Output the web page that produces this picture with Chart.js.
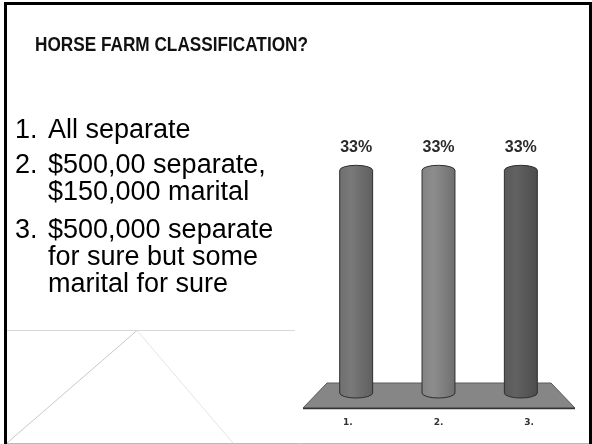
<!DOCTYPE html>
<html>
<head>
<meta charset="utf-8">
<script src="https://cdn.jsdelivr.net/npm/chart.js@4"></script>
<style>
  html, body { margin: 0; padding: 0; background: #fff; }
  #slide { position: relative; width: 592px; height: 444px; overflow: hidden; }
  #chart { position: absolute; left: 0; top: 0; }
  .title { position: absolute; left: 35px; top: 34px; font: bold 20px/20px "Liberation Sans", Arial, sans-serif; color: #111; white-space: nowrap; transform: scaleX(0.86); transform-origin: 0 0; }
  .item { position: absolute; font: 27px/27px "Liberation Sans", Arial, sans-serif; color: #000; white-space: nowrap; }
  .item .n { position: absolute; left: 0; }
  .item .t { position: absolute; left: 33px; }
  .frame { position: absolute; pointer-events: none; }
</style>
</head>
<body>
<div id="slide">
  <canvas id="chart" width="592" height="444"></canvas>
  <div class="frame" style="left:4px;top:2px;width:3px;height:442px;background:#000"></div>
  <div class="frame" style="left:4px;top:2px;width:588px;height:3px;background:#000"></div>
  <div class="frame" style="left:589px;top:2px;width:3px;height:442px;background:#000"></div>
  <div class="title">HORSE FARM CLASSIFICATION?</div>
  <div class="item" style="left:15px;top:116px"><span class="n">1.</span><span class="t">All separate</span></div>
  <div class="item" style="left:15px;top:151px"><span class="n">2.</span><span class="t">$500,00 separate,<br>$150,000 marital</span></div>
  <div class="item" style="left:15px;top:216px"><span class="n">3.</span><span class="t">$500,000 separate<br>for sure but some<br>marital for sure</span></div>
</div>
<script>
// ---- data ----
const categories = ["1.", "2.", "3."];
const responses = [33, 33, 33];            // percent of votes
const valueLabels = ["33%", "33%", "33%"];
const barColors = ["#707070", "#838383", "#5a5a5a"];

// slide decoration lines
const slideDeco = {
  id: "slideDeco",
  beforeDraw(chart) {
    const c = chart.ctx;
    c.save();
    c.lineWidth = 1;
    c.strokeStyle = "#d8d8d8";
    c.beginPath(); c.moveTo(7, 330.5); c.lineTo(295, 330.5); c.stroke();
    c.strokeStyle = "#c8c8c8";
    c.beginPath(); c.moveTo(7, 443); c.lineTo(137, 330.5); c.stroke();
    c.strokeStyle = "#e4e4e4";
    c.beginPath(); c.moveTo(137, 330.5); c.lineTo(233, 443); c.stroke();
    c.strokeStyle = "#bbbbbb";
    c.beginPath(); c.moveTo(7, 443.5); c.lineTo(592, 443.5); c.stroke();
    c.restore();
  }
};

// floor + 3D cylinders + labels
const cylinders = {
  id: "cylinders",
  beforeDatasetsDraw(chart) {
    const c = chart.ctx, a = chart.chartArea;
    const y0 = chart.scales.y.getPixelForValue(0);
    c.save();
    c.beginPath();
    c.moveTo(a.left + 12, y0 - 10);
    c.lineTo(a.right - 11, y0 - 10);
    c.lineTo(a.right + 13, y0 + 15);
    c.lineTo(a.left - 12, y0 + 15);
    c.closePath();
    c.fillStyle = "#868686";
    c.fill();
    c.strokeStyle = "#5a5a5a";
    c.lineWidth = 1;
    c.stroke();
    c.beginPath();
    c.moveTo(a.left - 12, y0 + 15.5);
    c.lineTo(a.right + 13, y0 + 15.5);
    c.strokeStyle = "#333";
    c.lineWidth = 1.5;
    c.stroke();
    c.restore();
  },
  afterDatasetsDraw(chart) {
    const c = chart.ctx;
    const meta = chart.getDatasetMeta(0);
    const a = chart.chartArea;
    const mid = (a.left + a.right) / 2;
    meta.data.forEach((bar, i) => {
      const w = bar.width, x0 = bar.x - w / 2, x1 = bar.x + w / 2;
      const top = bar.y, base = bar.base;
      const ry = 5;
      const g = c.createLinearGradient(x0, 0, x1, 0);
      g.addColorStop(0, barColors[i]);
      g.addColorStop(0.35, Chart.helpers.color(barColors[i]).lighten(0.08).rgbString());
      g.addColorStop(1, Chart.helpers.color(barColors[i]).darken(0.15).rgbString());
      c.save();
      c.beginPath();
      c.moveTo(x0, top + ry);
      c.lineTo(x0, base);
      c.ellipse(bar.x, base, w / 2, ry, 0, Math.PI, 0, true);
      c.lineTo(x1, top + ry);
      c.ellipse(bar.x, top + ry, w / 2, ry, 0, 0, Math.PI, true);
      c.closePath();
      c.fillStyle = g;
      c.fill();
      c.strokeStyle = "#2e2e2e";
      c.lineWidth = 1;
      c.stroke();
      // value label
      c.fillStyle = "#2a2a2a";
      c.font = "bold 16px 'Liberation Sans', Arial, sans-serif";
      c.textAlign = "center";
      c.textBaseline = "alphabetic";
      c.fillText(valueLabels[i], bar.x, top - 13);
      // category label (slight perspective spread)
      c.font = "bold 9px 'DejaVu Sans', sans-serif";
      c.fillStyle = "#333";
      c.fillText(categories[i], bar.x + (bar.x - mid) * 0.1, base + 32);
      c.restore();
    });
  }
};

new Chart(document.getElementById("chart"), {
  type: "bar",
  data: {
    labels: categories,
    datasets: [{
      data: responses,
      backgroundColor: "rgba(0,0,0,0)",
      borderWidth: 0,
      barPercentage: 0.4,
      categoryPercentage: 1
    }]
  },
  options: {
    responsive: false,
    animation: false,
    layout: { padding: { left: 315, right: 30, top: 117, bottom: 51 } },
    plugins: { legend: { display: false }, tooltip: { enabled: false } },
    scales: {
      x: { display: false },
      y: { display: false, min: 0, max: 40 }
    }
  },
  plugins: [slideDeco, cylinders]
});
</script>
</body>
</html>
